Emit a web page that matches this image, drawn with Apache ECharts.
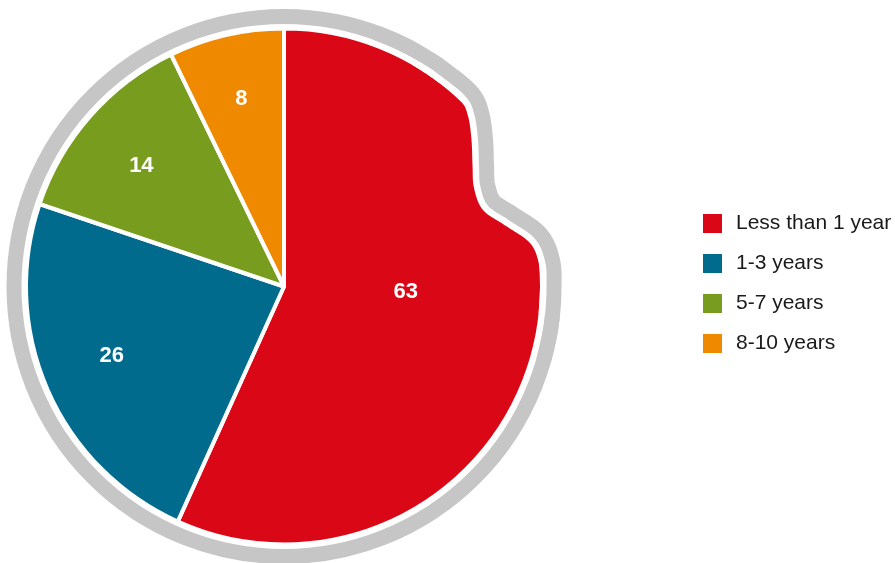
<!DOCTYPE html>
<html>
<head>
<meta charset="utf-8">
<script src="https://cdn.jsdelivr.net/npm/echarts@6/dist/echarts.min.js"></script>
<style>
  html, body { margin: 0; padding: 0; background: #fff; }
  #chart { width: 895px; height: 563px; }
</style>
</head>
<body>
<div id="chart"></div>
<script>
// data
var categories = ['Less than 1 year', '1-3 years', '5-7 years', '8-10 years'];
var values = [63, 26, 14, 8];
var colors = ['#DA0816', '#006B8D', '#789D1E', '#EF8A00'];

// pie layout (pixels)
var cx = 284, cy = 286.5, R = 256;
var ringColor = '#C6C6C6';

var chart = echarts.init(document.getElementById('chart'));

function onCircle(deg, r) {
    var a = deg * Math.PI / 180;
    return [cx + r * Math.sin(a), cy - r * Math.cos(a)];
}

// the bite taken out of the outline on the upper right (decoration)
var notchPts = [[460, 100], [468, 116], [471.5, 140], [472.5, 165], [474, 188],
    [483, 210], [506, 226], [530, 243]];

function catmull(pts, steps) {
    var out = [], n = pts.length;
    for (var i = 0; i < n - 1; i++) {
        var p0 = pts[Math.max(i - 1, 0)], p1 = pts[i], p2 = pts[i + 1], p3 = pts[Math.min(i + 2, n - 1)];
        for (var s = 0; s < steps; s++) {
            var t = s / steps, t2 = t * t, t3 = t2 * t;
            var pt = [0, 1].map(function (k) {
                return 0.5 * (2 * p1[k] + (-p0[k] + p2[k]) * t +
                    (2 * p0[k] - 5 * p1[k] + 4 * p2[k] - p3[k]) * t2 +
                    (-p0[k] + 3 * p1[k] - 3 * p2[k] + p3[k]) * t3);
            });
            out.push(pt);
        }
    }
    out.push(pts[n - 1]);
    return out;
}

var head = [20, 26, 32, 36].map(function (d) { return onCircle(d, R); });
var tail = [85, 90, 95, 100, 106].map(function (d) { return onCircle(d, R); });
var outline = catmull(head.concat(notchPts, tail), 12);

// outward offset of the outline for the grey band
var band = outline.map(function (p, i) {
    var a = outline[Math.max(i - 1, 0)], b = outline[Math.min(i + 1, outline.length - 1)];
    var tx = b[0] - a[0], ty = b[1] - a[1];
    var len = Math.sqrt(tx * tx + ty * ty) || 1;
    return [p[0] + ty / len * 14, p[1] - tx / len * 14];
});

// white patch between the bitten outline and the outer circle
var eraser = catmull([onCircle(30, R), onCircle(36, R)].concat(notchPts, [onCircle(85, R), onCircle(90, R), onCircle(96, R)]), 12);
for (var d = 96; d >= 30; d -= 2) {
    eraser.push(onCircle(d, 292));
}

var pieData = categories.map(function (name, i) {
    return {name: name, value: values[i], itemStyle: {color: colors[i]}};
});

// small nudges so the numbers sit where the original puts them
var labelNudge = [[-64, -35], [2, -6], [0, 5], [0, -2]];

chart.setOption({
    animation: false,
    legend: {
        orient: 'vertical',
        left: 701,
        top: 212,
        padding: 0,
        itemWidth: 21,
        itemHeight: 21,
        itemGap: 17,
        icon: 'rect',
        selectedMode: false,
        data: categories,
        textStyle: {
            fontFamily: 'Liberation Sans, Arial, sans-serif',
            fontSize: 21,
            lineHeight: 21,
            color: '#1a1a1a',
            padding: [0, 0, 0, 8]
        }
    },
    graphic: [
        {
            type: 'circle',
            z: 1,
            silent: true,
            shape: {cx: cx, cy: cy, r: 270},
            style: {fill: 'none', stroke: ringColor, lineWidth: 15}
        },
        {
            type: 'polygon',
            z: 100,
            silent: true,
            shape: {points: eraser},
            style: {fill: '#fff', stroke: null}
        },
        {
            type: 'polyline',
            z: 101,
            silent: true,
            shape: {points: band},
            style: {fill: 'none', stroke: ringColor, lineWidth: 15, lineJoin: 'round'}
        }
    ],
    series: [
        {
            name: 'Years',
            type: 'pie',
            center: [cx, cy],
            radius: [0, R + 2],
            startAngle: 90,
            clockwise: true,
            silent: true,
            itemStyle: {borderColor: '#fff', borderWidth: 4},
            label: {show: false},
            labelLine: {show: false},
            emphasis: {disabled: true},
            data: pieData
        },
        {
            name: 'Labels',
            type: 'pie',
            center: [cx, cy],
            radius: [118, R],
            startAngle: 90,
            clockwise: true,
            silent: true,
            z: 3,
            itemStyle: {color: 'transparent', borderWidth: 0},
            label: {
                show: true,
                position: 'inside',
                formatter: '{c}',
                color: '#fff',
                fontFamily: 'Liberation Sans, Arial, sans-serif',
                fontWeight: 'bold',
                fontSize: 22
            },
            labelLine: {show: false},
            labelLayout: function (params) {
                var n = labelNudge[params.dataIndex];
                return {dx: n[0], dy: n[1]};
            },
            emphasis: {disabled: true},
            data: categories.map(function (name, i) {
                return {name: name, value: values[i]};
            })
        }
    ]
});

window.onresize = function () {
    chart.resize();
};
</script>
</body>
</html>
